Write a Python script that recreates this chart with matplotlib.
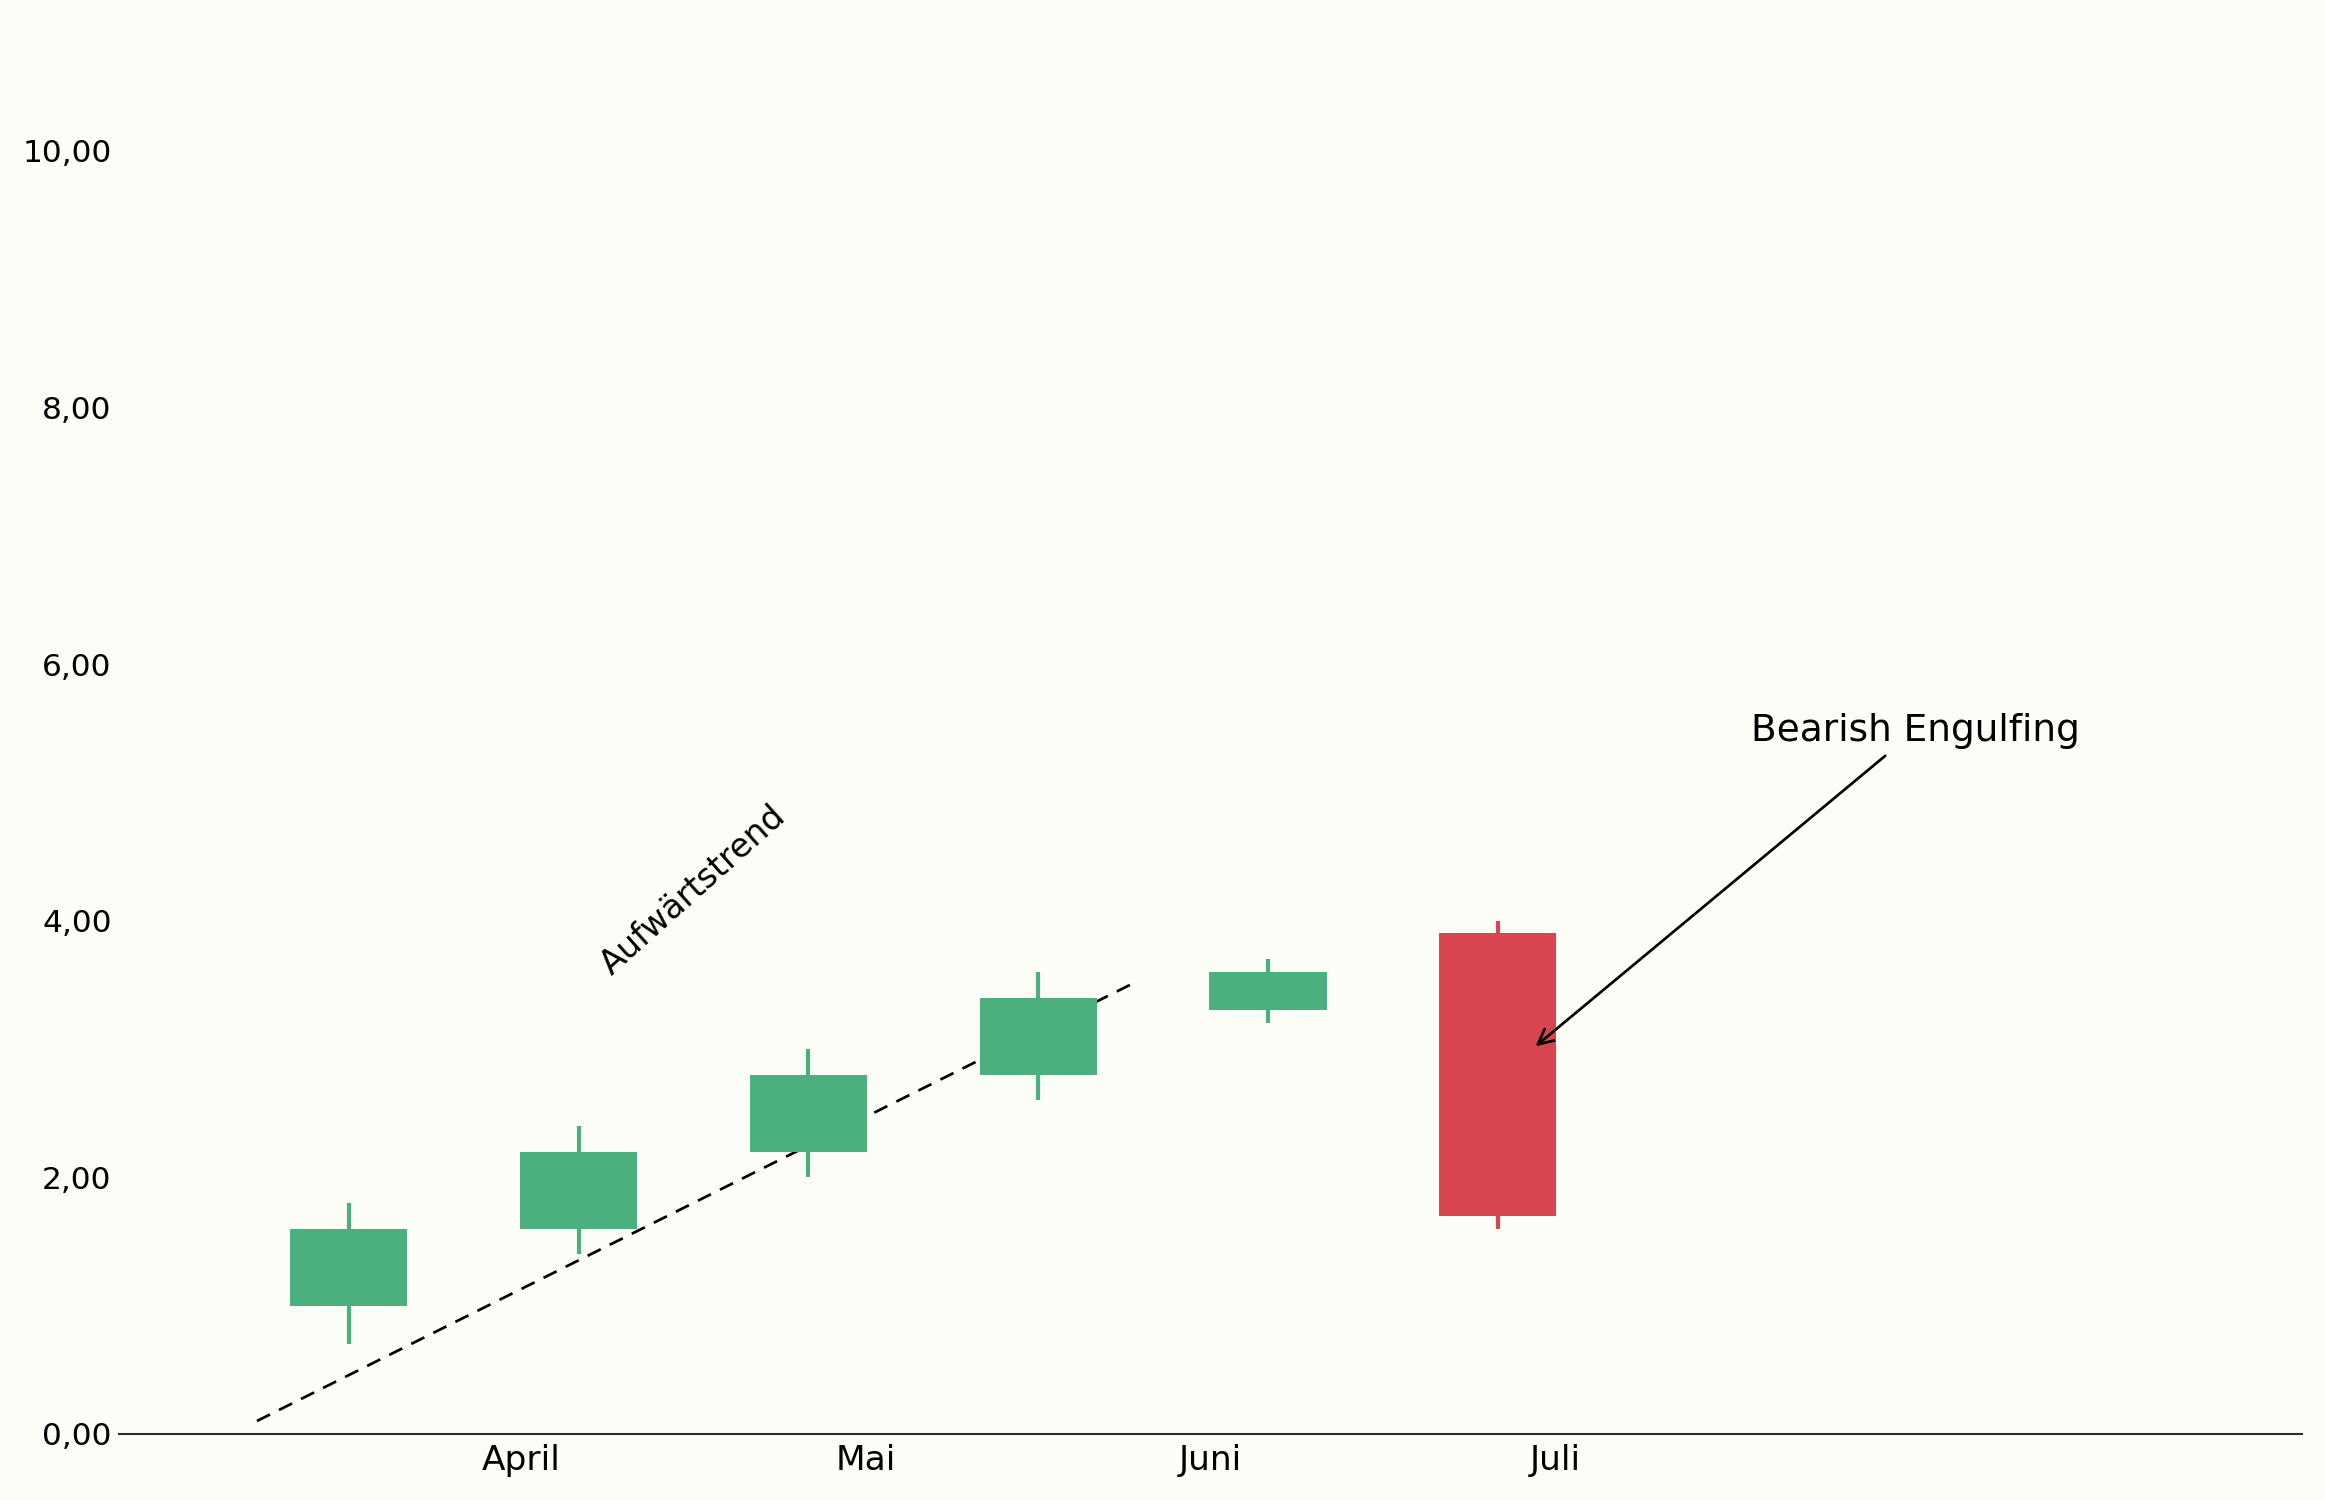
import numpy as np
import matplotlib.pyplot as plt
from matplotlib.ticker import FuncFormatter

# Kerzen-Daten
pos = [0, 1, 2, 3, 4, 5]
opens = [1.0, 1.6, 2.2, 2.8, 3.3, 3.9]
closes = [1.6, 2.2, 2.8, 3.4, 3.6, 1.7]
highs = [1.8, 2.4, 3.0, 3.6, 3.7, 4.0]
lows = [0.7, 1.4, 2.0, 2.6, 3.2, 1.6]

month_pos = [0.75, 2.25, 3.75, 5.25]
month_labels = ["April", "Mai", "Juni", "Juli"]

trend_x = [-0.4, 3.4]
trend_y = [0.1, 3.5]

up_col = "#4caf7e"
down_col = "#d84550"
bg = "#fdfdf8"

fig = plt.figure(figsize=(15.5, 10), dpi=150, facecolor=bg)
ax = fig.add_axes([0.0512, 0.0441, 0.939, 0.9409], facecolor=bg)

for x, o, c, h, l in zip(pos, opens, closes, highs, lows):
    col = up_col if c >= o else down_col
    ax.vlines(x, l, h, color=col, lw=2, zorder=2)
    ax.bar(x, abs(c - o), bottom=min(o, c), width=0.51, color=col, zorder=3)

# Trendlinie (hinter den Kerzen)
ax.plot(trend_x, trend_y, color="black", lw=1.3, linestyle=(0, (5.4, 3.7)), zorder=1)
slope = (trend_y[1] - trend_y[0]) / (trend_x[1] - trend_x[0])
ax.text(1.5, 4.24, "Aufwärtstrend", rotation=np.degrees(np.arctan(slope)),
        ha="center", va="center", fontsize=16)

ax.annotate("Bearish Engulfing", xy=(5.15, 3.0), xytext=(6.1, 5.4),
            fontsize=18, arrowprops=dict(arrowstyle="->", color="black", lw=1.3))

ax.set_xlim(-1, 8.5)
ax.set_ylim(0, 11)
ax.set_yticks([0, 2, 4, 6, 8, 10])
ax.yaxis.set_major_formatter(FuncFormatter(lambda v, p: f"{v:.2f}".replace(".", ",")))
ax.set_xticks(month_pos)
ax.set_xticklabels(month_labels)
ax.tick_params(axis="x", length=0, pad=5, labelsize=16.5)
ax.tick_params(axis="y", length=0, pad=3.5, labelsize=15)

for s in ["top", "right", "left"]:
    ax.spines[s].set_visible(False)
ax.spines["bottom"].set_color("#2b2b2b")
ax.spines["bottom"].set_linewidth(1.0)

fig.savefig("out.png", dpi=150, facecolor=bg)
